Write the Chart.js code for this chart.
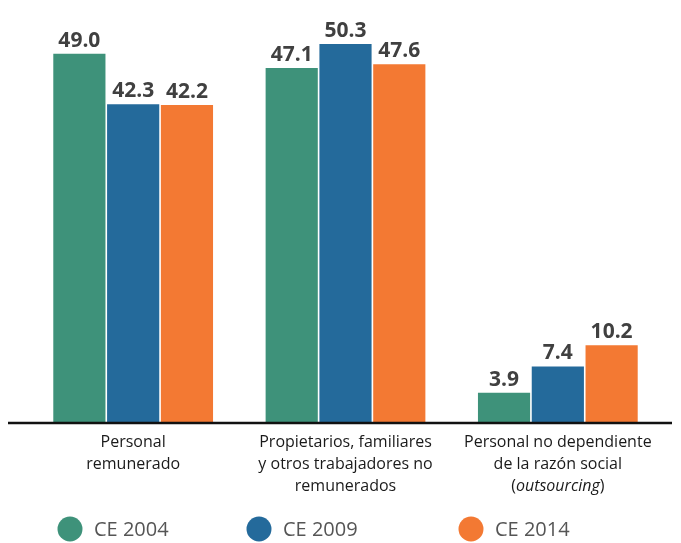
<!DOCTYPE html>
<html>
<head>
<meta charset="utf-8">
<script src="https://cdn.jsdelivr.net/npm/chart.js@4"></script>
<style>
  html, body { margin: 0; padding: 0; background: #fff; }
  #wrap { width: 681px; height: 543px; }
</style>
</head>
<body>
<div id="wrap"><canvas id="chart"></canvas></div>
<script>
// categories, each a list of lines; segments with italic flag
const categories = [
  [[["Personal", false]], [["remunerado", false]]],
  [[["Propietarios, familiares", false]], [["y otros trabajadores no", false]], [["remunerados", false]]],
  [[["Personal no dependiente", false]], [["de la razón social", false]], [["(", false], ["outsourcing", true], [")", false]]]
];
const seriesNames = ["CE 2004", "CE 2009", "CE 2014"];
const ce2004 = [49.0, 47.1, 3.9];
const ce2009 = [42.3, 50.3, 7.4];
const ce2014 = [42.2, 47.6, 10.2];
const colors = ["#3e927a", "#246a9b", "#f37933"];

const FONT = "'Open Sans', sans-serif";

// value labels above bars + baseline
const valueLabels = {
  id: "valueLabels",
  afterDatasetsDraw(chart) {
    const ctx = chart.ctx;
    ctx.save();
    ctx.font = "bold 21px " + FONT;
    ctx.fillStyle = "#404040";
    ctx.textAlign = "center";
    ctx.textBaseline = "alphabetic";
    chart.data.datasets.forEach((ds, i) => {
      chart.getDatasetMeta(i).data.forEach((bar, j) => {
        ctx.fillText(ds.data[j].toFixed(1), bar.x, bar.y - 7);
      });
    });
    // baseline
    const y0 = chart.scales.y.getPixelForValue(0);
    ctx.strokeStyle = "#111";
    ctx.lineWidth = 2.5;
    ctx.beginPath();
    ctx.moveTo(8, y0 + 1);
    ctx.lineTo(chart.width - 9, y0 + 1);
    ctx.stroke();
    ctx.restore();
  }
};

// category labels (allows italic parts)
const catLabels = {
  id: "catLabels",
  afterDraw(chart) {
    const ctx = chart.ctx;
    const x = chart.scales.x;
    const y0 = chart.scales.y.getPixelForValue(0);
    ctx.save();
    ctx.fillStyle = "#1a1a1a";
    ctx.textBaseline = "middle";
    ctx.textAlign = "left";
    categories.forEach((lines, i) => {
      const cx = x.getPixelForValue(i);
      lines.forEach((segs, k) => {
        const y = y0 + 20 + k * 22;
        let w = 0;
        segs.forEach(([t, it]) => {
          ctx.font = (it ? "italic " : "") + "16px " + FONT;
          w += ctx.measureText(t).width;
        });
        let px = cx - w / 2;
        segs.forEach(([t, it]) => {
          ctx.font = (it ? "italic " : "") + "16px " + FONT;
          ctx.fillText(t, px, y);
          px += ctx.measureText(t).width;
        });
      });
    });
    ctx.restore();
  }
};

// legend row
const legendRow = {
  id: "legendRow",
  afterDraw(chart) {
    const ctx = chart.ctx;
    const xs = [70, 259, 471];
    const y = 529;
    ctx.save();
    ctx.font = "20px " + FONT;
    ctx.textBaseline = "middle";
    ctx.textAlign = "left";
    chart.data.datasets.forEach((ds, i) => {
      ctx.fillStyle = ds.backgroundColor;
      ctx.beginPath();
      ctx.arc(xs[i], y, 12.5, 0, Math.PI * 2);
      ctx.fill();
      ctx.fillStyle = "#555";
      ctx.fillText(ds.label, xs[i] + 24, y + 1);
    });
    ctx.restore();
  }
};

new Chart(document.getElementById("chart"), {
  type: "bar",
  data: {
    labels: categories.map(c => c.map(l => l.map(s => s[0]).join(""))),
    datasets: [
      { label: seriesNames[0], data: ce2004, backgroundColor: colors[0] },
      { label: seriesNames[1], data: ce2009, backgroundColor: colors[1] },
      { label: seriesNames[2], data: ce2014, backgroundColor: colors[2] }
    ]
  },
  options: {
    responsive: true,
    maintainAspectRatio: false,
    animation: false,
    layout: { padding: { top: 20, bottom: 121, left: 27, right: 17 } },
    datasets: { bar: { categoryPercentage: 0.76, barPercentage: 0.97 } },
    plugins: { legend: { display: false }, tooltip: { enabled: false } },
    scales: {
      x: { display: false },
      y: { display: false, min: 0, max: 53.5 }
    }
  },
  plugins: [valueLabels, catLabels, legendRow]
});
</script>
</body>
</html>
